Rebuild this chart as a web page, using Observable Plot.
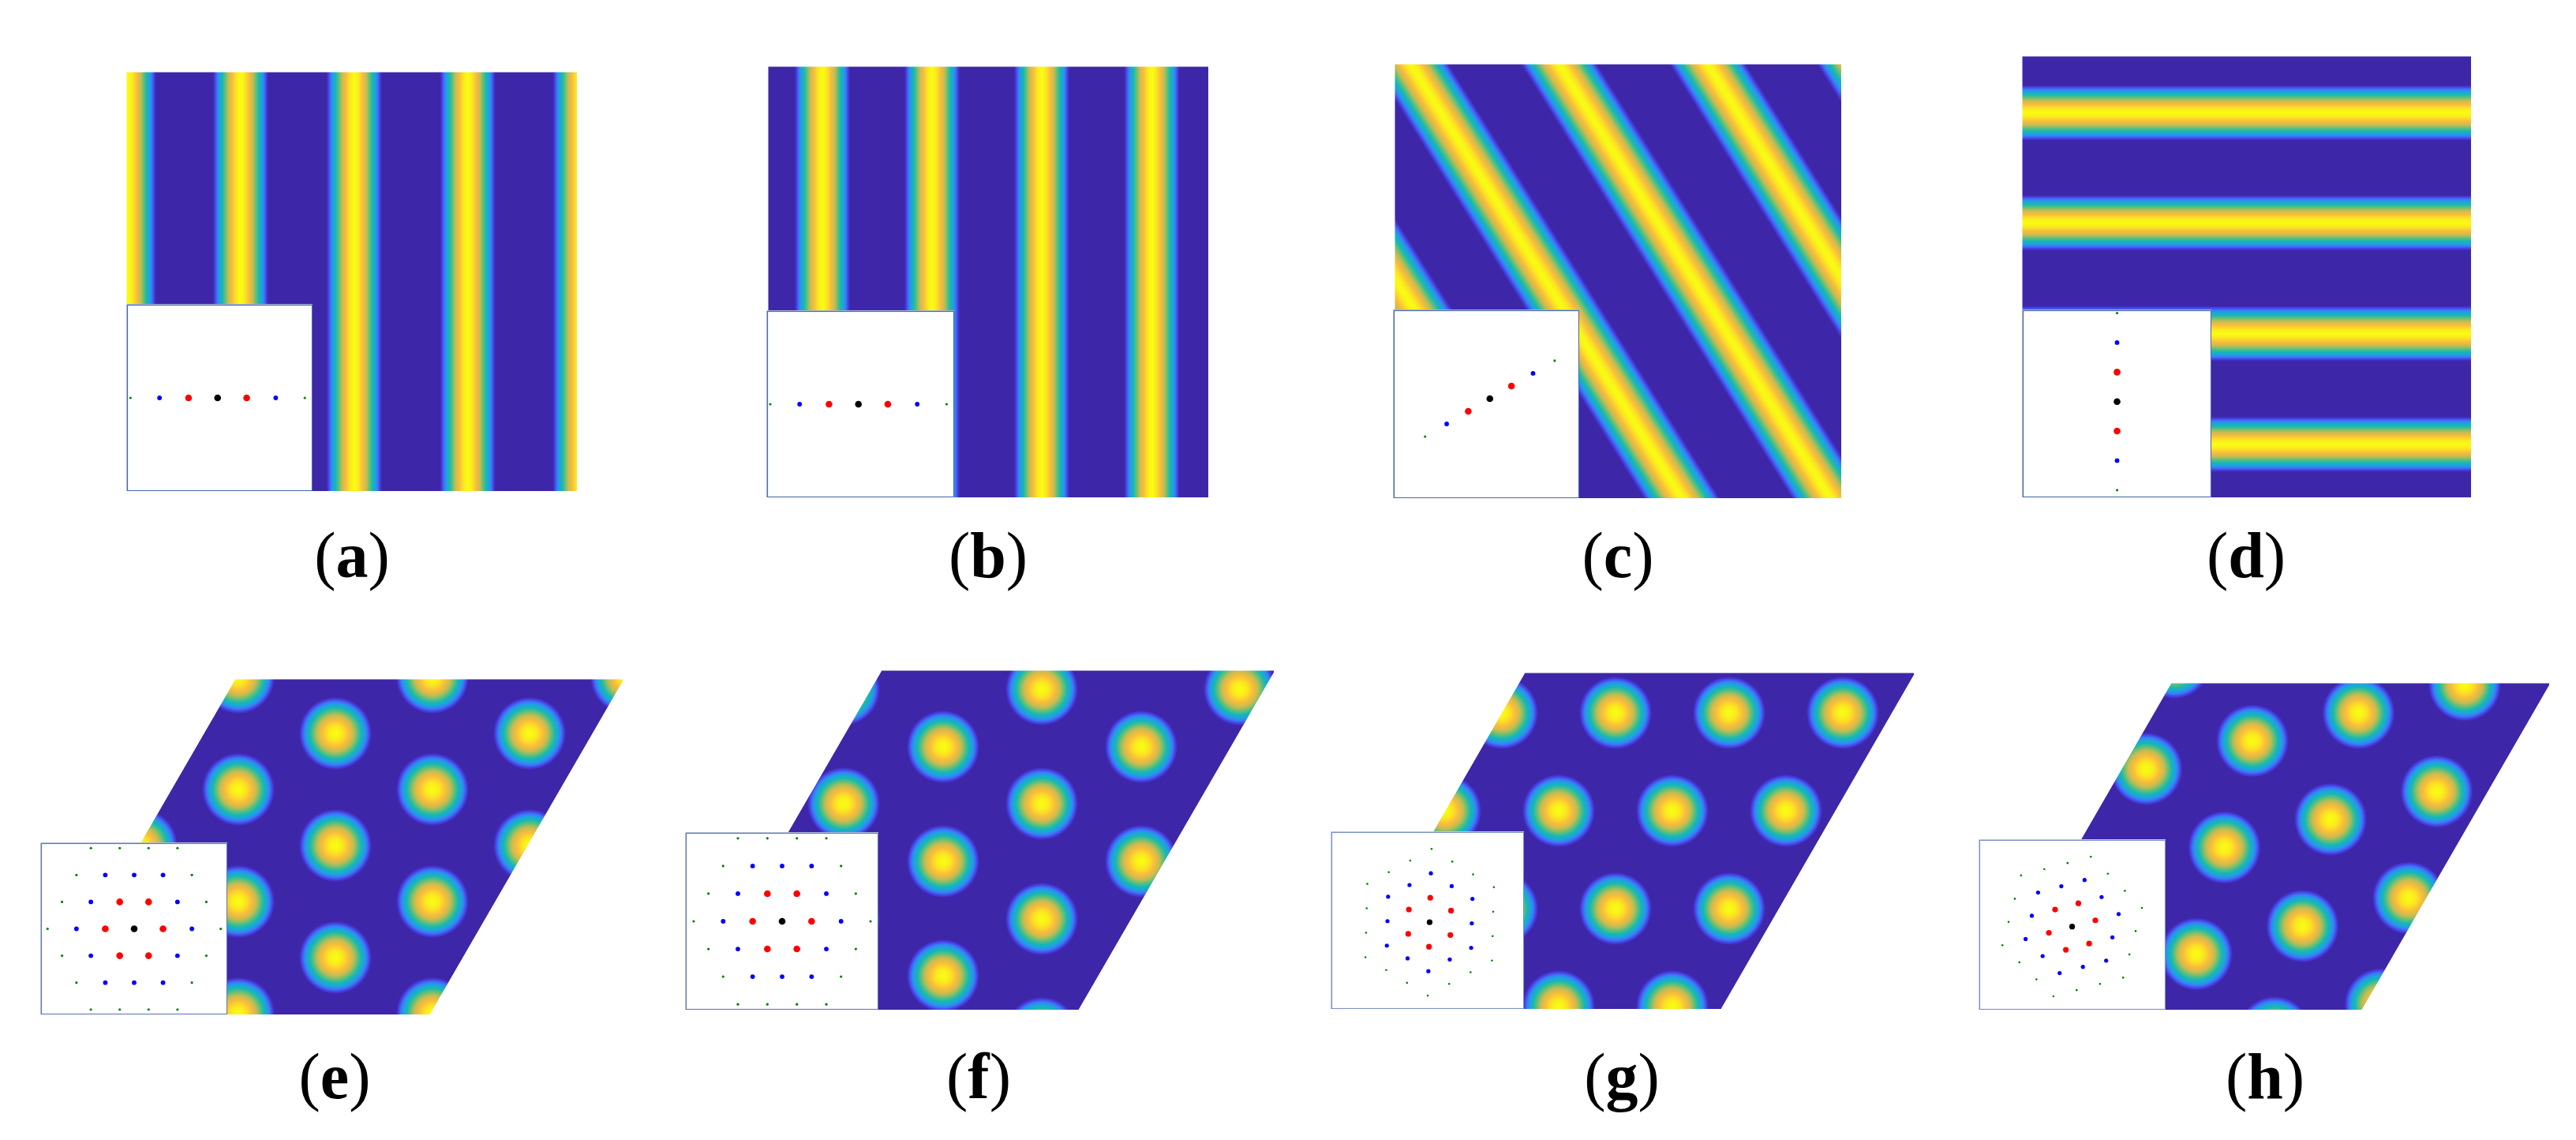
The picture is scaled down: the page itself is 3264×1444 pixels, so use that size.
<!DOCTYPE html>
<html><head><meta charset="utf-8">
<script src="https://cdn.jsdelivr.net/npm/d3@7"></script>
<script src="https://cdn.jsdelivr.net/npm/@observablehq/plot@0.6"></script>
<style>
html,body{margin:0;padding:0;background:#fff;}
#fig{position:relative;width:3264px;height:1444px;background:#fff;overflow:hidden;}
#fig svg{position:absolute;display:block;}
.label{position:absolute;font-family:"Liberation Serif","Times New Roman",serif;font-size:82px;line-height:1;transform:translateX(-50%);white-space:nowrap;color:#000;}
.label b{font-weight:bold;}
</style></head><body><div id="fig"></div>
<script>
// ---------------- data ----------------
const panelLetters = ["a","b","c","d","e","f","g","h"];

// Row 1: stripe centres (fraction of panel width for a, b; of height for d)
const stripesA = [0.003, 0.252, 0.504, 0.756, 1.006];
const stripesB = [0.122, 0.371, 0.620, 0.870];
const stripesC = [-0.63, -0.30, 0.035, 0.367, 0.70, 1.03]; // crossing points on the top edge
const stripeAngleC = 32; // degrees
const stripesD = [0.127, 0.376, 0.627, 0.878];

// Row 2: spot centres (pixels within each panel box, x right, y down)
const spotsE = [[373,68],[373,210],[373,352],[496,-3],[496,139],[496,281],[496,423],[619,68],[619,210],[742,-3],[250,-3],[250,139],[250,281],[250,423],[127,210],[127,352],[4,423]];
const spotsF = [[452,23],[452,168],[452,314],[452,459],[327,-49],[327,96],[327,241],[327,386],[578,-49],[578,96],[578,241],[703,23],[201,23],[201,168],[201,314],[76,241],[76,386]];
const spotsG = [[217,50],[361,50],[505,50],[649,50],[145,174],[289,174],[433,174],[577,174],[73,298],[217,298],[361,298],[505,298],[1,422],[145,422],[289,422],[433,422]];
const spotsH = [[441,172],[575.5,136.5],[306.5,207.5],[172,243],[37.5,278.5],[540,271.5],[405.5,307],[271,342.5],[136.5,378],[504.5,406.5],[370,442],[342,72.5],[476.5,37],[611,1.5],[207.5,108],[243,-27]];

// Insets: diffraction spots
const lineIdx  = [-3,-2,-1,0,1,2,3];
const lineRing = [3,2,1,0,1,2,3];
const hexH = [0, 1,0,-1,-1,0,1, 2,1,0,-1,-2,-2,-2,-1,0,1,2,2, 3,2,1,0,-1,-2,-3,-3,-3,-3,-2,-1,0,1,2,3,3,3];
const hexK = [0, 0,1,1,0,-1,-1, 0,1,2,2,2,1,0,-1,-2,-2,-2,-1, 0,1,2,3,3,3,3,2,1,0,-1,-2,-3,-3,-3,-3,-2,-1];
const hexRing = [0, 1,1,1,1,1,1, 2,2,2,2,2,2,2,2,2,2,2,2, 3,3,3,3,3,3,3,3,3,3,3,3,3,3,3,3,3,3];
const insetAngles = {a:0, b:0, c:30, d:90, e:0, f:0, g:28.5, h:15};
const ringColors = ["#000000","#ff0000","#0000ff","#008000"];

// ---------------- layout & style ----------------
const parula = d3.piecewise(d3.interpolateRgb, ["#3e26a8","#4743ea","#3b7cf6","#1ca5dc","#16b7b6","#5cc07a","#c4bc52","#fbbd3a","#f9fa14"]);
const layout = {
  a:{main:[160,91,571,531], inset:[160,385,236,237], xd:[-3.13,3.28], yd:[-3.2,3.2], label:[446,732]},
  b:{main:[973,84,558,546], inset:[971,393,238,237], xd:[-3.12,3.27], yd:[-3.2,3.2], label:[1252,732]},
  c:{main:[1767,81,566,550], inset:[1765,392,236,239], xd:[-3.87,3.60], yd:[-3.95,3.51], label:[2050,732]},
  d:{main:[2562,71,569,559], inset:[2562,392,240,238], xd:[-3.2,3.2], yd:[-3.26,3.11], label:[2846,732]},
  e:{main:[51,860,738,425], shear:246, top:492, inset:[51,1067,237,218], xd:[-3.24,3.24], yd:[-2.77,2.77], label:[424,1392]},
  f:{main:[867,849,747,430], shear:249, top:498, inset:[868,1054,245,225], xd:[-3.28,3.28], yd:[-2.78,2.78], label:[1240,1392]},
  g:{main:[1685,852,740,426], shear:246, top:494, inset:[1686,1053,245,225], xd:[-4.05,3.89], yd:[-3.56,3.70], label:[2055,1392]},
  h:{main:[2511,865,719,414], shear:239, top:480, inset:[2507,1063,237,216], xd:[-3.87,3.90], yd:[-3.47,3.61], label:[2870,1392]}
};
const R_STRIPE = 35, R_STRIPE_C = 41, R_SPOT = 46;
const prof = (d, R, p) => d >= R ? 0 : 1 - Math.pow(d / R, p);

const fig = document.getElementById("fig");
function place(el, x, y) { el.style.left = x + "px"; el.style.top = y + "px"; fig.appendChild(el); }

function fieldPlot(W, H, fill, fillOpacity) {
  return Plot.plot({
    width: W, height: H, margin: 0,
    x: {domain: [0, W], axis: null},
    y: {domain: [0, H], reverse: true, axis: null},
    color: {type: "linear", domain: [0, 1], interpolate: parula, clamp: true},
    opacity: {type: "identity"},
    style: {background: "transparent"},
    marks: [Plot.raster({x1: 0, x2: W, y1: 0, y2: H, width: W, height: H, fill, fillOpacity, imageRendering: "pixelated"})]
  });
}

const fields = {
  a: (W, H) => (x, y) => d3.max(stripesA, c => prof(Math.abs(x - c * W), R_STRIPE, 1.7)),
  b: (W, H) => (x, y) => d3.max(stripesB, c => prof(Math.abs(x - c * W), R_STRIPE, 1.7)),
  c: (W, H) => { const t = stripeAngleC * Math.PI / 180, tn = Math.tan(t), cs = Math.cos(t);
                 return (x, y) => d3.max(stripesC, c => prof(Math.abs((x - y * tn) - c * W) * cs, R_STRIPE_C, 1.7)); },
  d: (W, H) => (x, y) => d3.max(stripesD, c => prof(Math.abs(y - c * H), R_STRIPE, 1.7)),
  e: () => spotField(spotsE), f: () => spotField(spotsF), g: () => spotField(spotsG), h: () => spotField(spotsH)
};
function spotField(spots) {
  return (x, y) => { let v = 0; for (const [sx, sy] of spots) { const d = Math.hypot(x - sx, y - sy); if (d < R_SPOT) v = Math.max(v, prof(d, R_SPOT, 2)); } return v; };
}
function rhombus(W, H, shear, top) {
  return (x, y) => { const xl = shear * (1 - y / H), xr = xl + top; return Math.max(0, Math.min(1, Math.min(x - xl, xr - x) + 0.5)); };
}

function insetDots(p) {
  const a = insetAngles[p] * Math.PI / 180;
  if ("abcd".includes(p)) return lineIdx.map((n, i) => ({x: n * Math.cos(a), y: n * Math.sin(a), ring: lineRing[i]}));
  const b = a + Math.PI / 3;
  return hexH.map((h, i) => ({x: h * Math.cos(a) + hexK[i] * Math.cos(b), y: h * Math.sin(a) + hexK[i] * Math.sin(b), ring: hexRing[i]}));
}

for (const p of panelLetters) {
  const L = layout[p];
  const [mx, my, W, H] = L.main;
  const shape = L.shear !== undefined ? rhombus(W, H, L.shear, L.top) : undefined;
  place(fieldPlot(W, H, fields[p](W, H), shape), mx, my);

  const [ix, iy, iw, ih] = L.inset;
  const small = p === "g" || p === "h";
  const radii = small ? [3.6, 3.6, 2.6, 1.3] : [4.3, 4.3, 2.9, 1.6];
  const border = small ? "#7d93c5" : (p === "e" || p === "f" ? "#5f7cb8" : "#4d6cae");
  const inset = Plot.plot({
    width: iw, height: ih, margin: 0,
    x: {domain: L.xd, axis: null}, y: {domain: L.yd, axis: null},
    r: {type: "identity"}, color: {type: "identity"},
    style: {background: "#fff"},
    marks: [
      Plot.frame({stroke: border, strokeWidth: 1.6, inset: 0.8}),
      Plot.dot(insetDots(p), {x: "x", y: "y", r: d => radii[d.ring], fill: d => ringColors[d.ring]})
    ]
  });
  place(inset, ix, iy);

  const lab = document.createElement("div");
  lab.className = "label";
  lab.innerHTML = "(<b>" + p + "</b>)";
  place(lab, L.label[0], L.label[1] - 69);
}
</script></body></html>
